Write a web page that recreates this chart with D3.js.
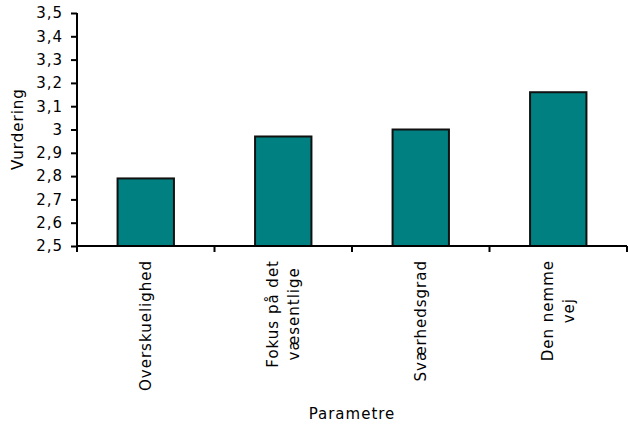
<!DOCTYPE html>
<html>
<head>
<meta charset="utf-8">
<script src="https://cdn.jsdelivr.net/npm/d3@7"></script>
<style>
  html, body { margin: 0; padding: 0; background: #fff; }
  svg { display: block; }
  text { font-family: "DejaVu Sans", Verdana, sans-serif; font-size: 15px; letter-spacing: 1px; fill: #000; }
</style>
</head>
<body>
<svg id="chart" width="628" height="426"></svg>
<script>
// ---- data ----
const categories = [["Overskuelighed"], ["Fokus på det", "væsentlige"], ["Sværhedsgrad"], ["Den nemme", "vej"]];
const values = [2.79, 2.97, 3.00, 3.16];
const yTicks = [2.5, 2.6, 2.7, 2.8, 2.9, 3.0, 3.1, 3.2, 3.3, 3.4, 3.5];
const yTitle = "Vurdering";
const xTitle = "Parametre";

// ---- layout ----
const plotLeft = 77, plotRight = 627, plotTop = 13, plotBottom = 246;
const svg = d3.select("#chart");

const keys = categories.map((c, i) => i);
const x = d3.scaleBand().domain(keys).range([plotLeft, plotRight]).paddingInner(0.59).paddingOuter(0.295);
const y = d3.scaleLinear().domain([2.5, 3.5]).range([plotBottom, plotTop]);

// bars
svg.append("g").selectAll("rect").data(values).join("rect")
  .attr("x", (d, i) => x(i))
  .attr("y", d => y(d))
  .attr("width", x.bandwidth())
  .attr("height", d => y(2.5) - y(d))
  .attr("fill", "#008080")
  .attr("stroke", "#111")
  .attr("stroke-width", 2);

// y axis
const yAxis = svg.append("g")
  .attr("transform", `translate(${plotLeft},0)`)
  .call(d3.axisLeft(y).tickValues(yTicks).tickSize(6).tickPadding(8)
    .tickFormat(d => d3.format(".1~f")(d).replace(".", ",")));
yAxis.attr("font-family", null).attr("font-size", null);
yAxis.select(".domain").attr("stroke", "#000").attr("stroke-width", 2).attr("d", `M0,${plotTop}V${plotBottom}`);
yAxis.selectAll(".tick line").attr("stroke", "#000").attr("stroke-width", 2);

// x axis (category boundaries as ticks)
const step = x.step();
const bounds = d3.range(categories.length + 1).map(i => plotLeft + i * step);
const xg = svg.append("g");
xg.append("line").attr("x1", plotLeft).attr("x2", plotRight).attr("y1", plotBottom).attr("y2", plotBottom)
  .attr("stroke", "#000").attr("stroke-width", 2);
xg.selectAll("line.tk").data(bounds).join("line").attr("class", "tk")
  .attr("x1", d => d).attr("x2", d => d).attr("y1", plotBottom).attr("y2", plotBottom + 6)
  .attr("stroke", "#000").attr("stroke-width", 2);

// category labels (rotated, multi-line centred, block end-anchored at top)
const lineH = 21;
categories.forEach((lines, i) => {
  const cx = x(i) + x.bandwidth() / 2;
  const g = svg.append("g").attr("transform", `translate(${cx},260) rotate(-90)`);
  const texts = lines.map((ln, j) => g.append("text")
    .attr("text-anchor", "middle")
    .attr("y", (j - (lines.length - 1) / 2) * lineH)
    .attr("dy", "0.35em")
    .text(ln));
  const maxLen = d3.max(texts, t => t.node().getComputedTextLength());
  texts.forEach(t => t.attr("x", -maxLen / 2));
});

// titles
svg.append("text").attr("transform", "translate(23,129) rotate(-90)")
  .attr("text-anchor", "middle").text(yTitle);
svg.append("text").attr("x", 352).attr("y", 419)
  .attr("text-anchor", "middle").text(xTitle);
</script>
</body>
</html>
